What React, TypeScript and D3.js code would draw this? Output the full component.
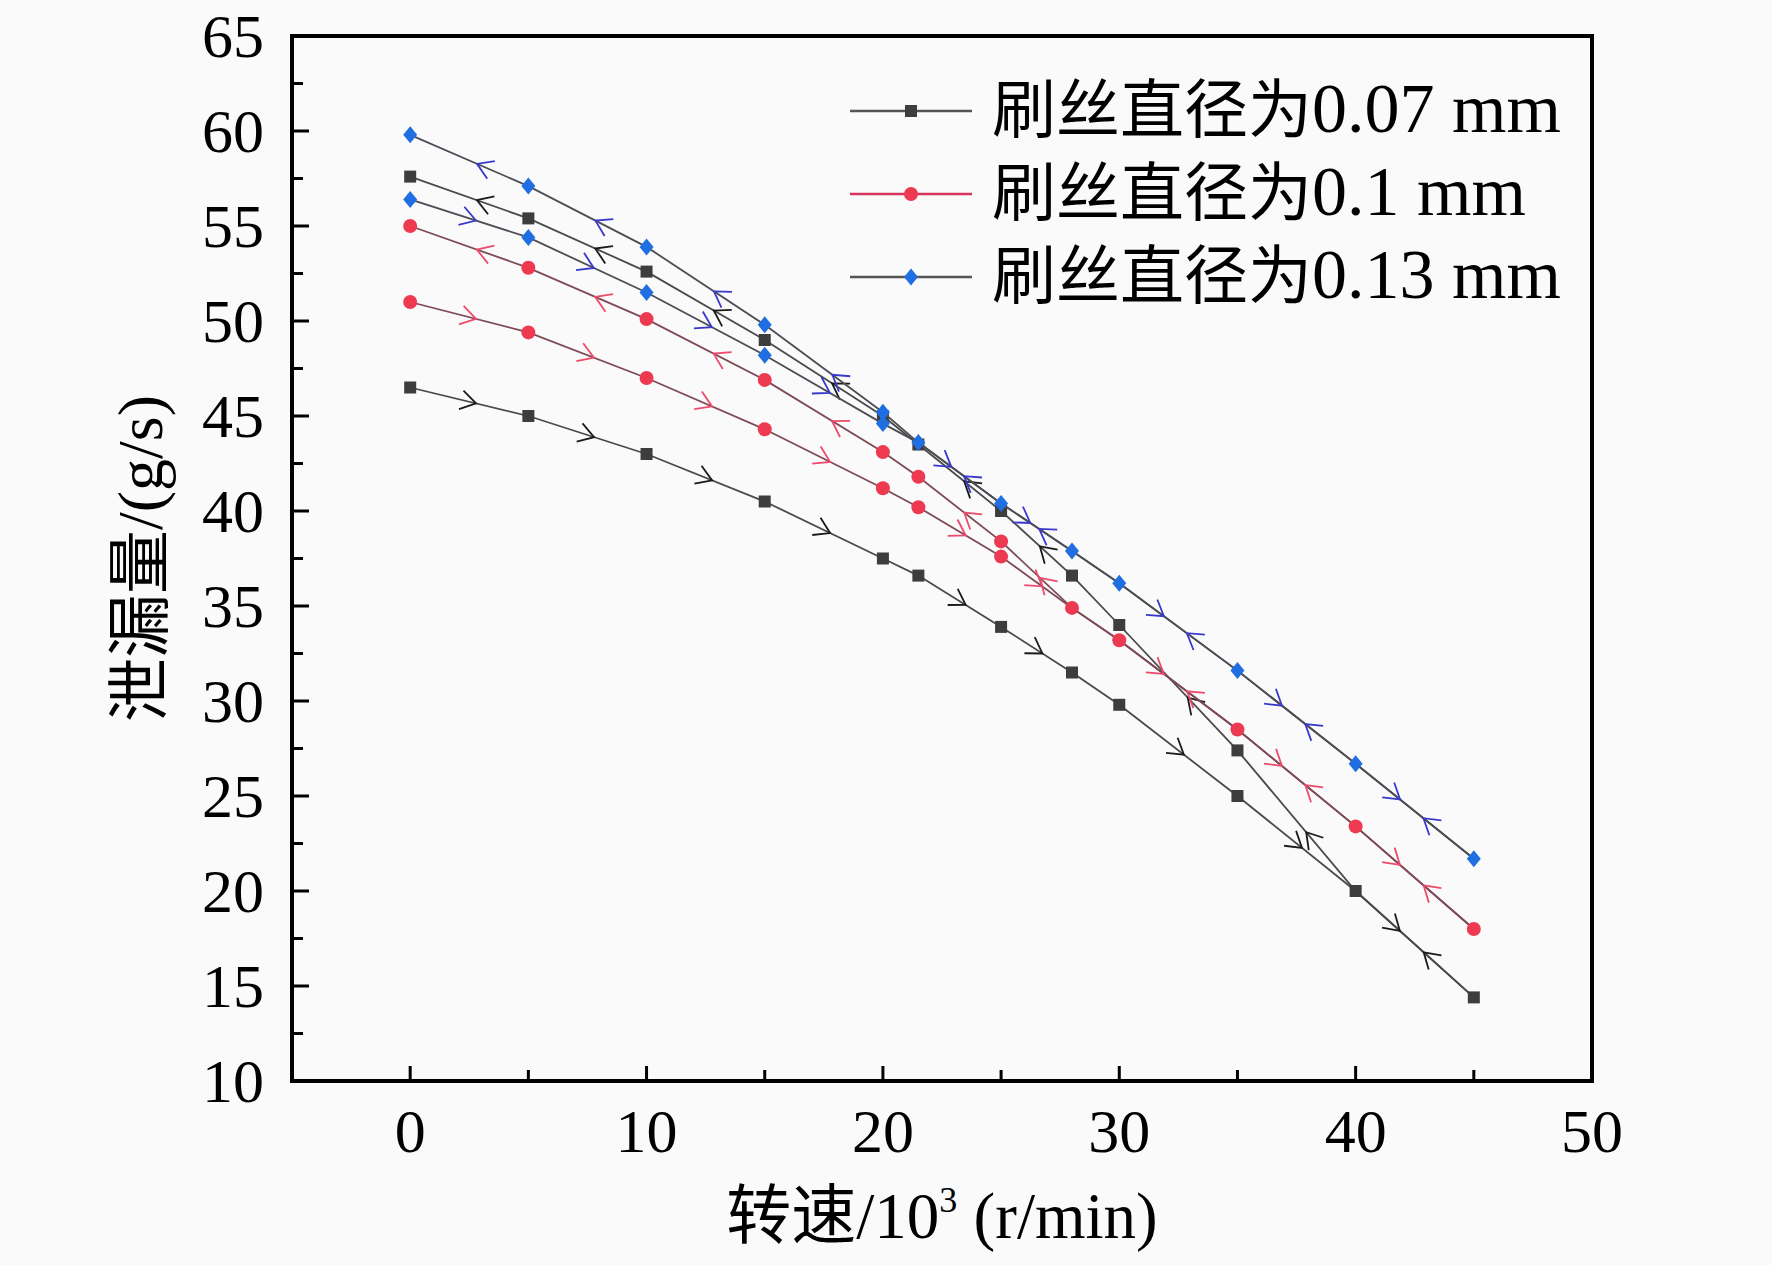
import { useEffect, useRef } from "react";
import * as d3 from "d3";

// speed, 10^3 r/min
const speeds = [0, 5, 10, 15, 20, 21.5, 25, 28, 30, 35, 40, 45];

// leakage (g/s): "up" = speed rising (arrows right), "down" = speed falling (arrows left)
const d007Up = [46.5, 45.0, 43.0, 40.5, 37.5, 36.6, 33.9, 31.5, 29.8, 25.0, 20.0, 14.4];
const d007Down = [57.6, 55.4, 52.6, 49.0, 45.0, 43.5, 40.0, 36.6, 34.0, 27.4, 20.0, 14.4];
const d010Up = [51.0, 49.4, 47.0, 44.3, 41.2, 40.2, 37.6, 34.9, 33.2, 28.5, 23.4, 18.0];
const d010Down = [55.0, 52.8, 50.1, 46.9, 43.1, 41.8, 38.4, 34.9, 33.2, 28.5, 23.4, 18.0];
const d013Up = [56.4, 54.4, 51.5, 48.2, 44.6, 43.6, 40.4, 37.9, 36.2, 31.6, 26.7, 21.7];
const d013Down = [59.8, 57.1, 53.9, 49.8, 45.2, 43.6, 40.4, 37.9, 36.2, 31.6, 26.7, 21.7];

const seriesPrefix = "刷丝直径为";
const seriesSizes = ["0.07 mm", "0.1 mm", "0.13 mm"];

const xTicks = [0, 10, 20, 30, 40, 50];
const yTicks = [10, 15, 20, 25, 30, 35, 40, 45, 50, 55, 60, 65];

const W = 1772;
const H = 1265;
const FONT = "'Liberation Serif', 'Times New Roman', 'Noto Sans CJK SC', serif";

export default function App() {
  const ref = useRef<SVGSVGElement>(null);

  useEffect(() => {
    if (!ref.current) return;
    const svg = d3.select(ref.current);
    svg.selectAll("*").remove();

    const margin = { top: 36, right: 180, bottom: 184, left: 292 };

    const x = d3.scaleLinear().domain([-5, 50]).range([margin.left, W - margin.right]);
    const y = d3.scaleLinear().domain([10, 65]).range([H - margin.bottom, margin.top]);

    svg.append("rect").attr("width", W).attr("height", H).attr("fill", "#fafafa");

    const series = [
      { size: seriesSizes[0], up: d007Up, down: d007Down, line: "#4a4a4a", legendLine: "#555", arrow: "#1a1a1a", marker: "#3d3d3d", shape: "square" },
      { size: seriesSizes[1], up: d010Up, down: d010Down, line: "#7e4a58", legendLine: "#d8335a", arrow: "#ee4a6c", marker: "#ee3a50", shape: "circle" },
      { size: seriesSizes[2], up: d013Up, down: d013Down, line: "#4d4d55", legendLine: "#555", arrow: "#3838cc", marker: "#1f6fe2", shape: "diamond" },
    ];

    const line = d3.line<number>().x((_, i) => x(speeds[i])).y(d => y(d));

    const drawMarker = (g: d3.Selection<SVGGElement, unknown, null, undefined>, shape: string, cx: number, cy: number, fill: string) => {
      if (shape === "square") {
        g.append("rect").attr("x", cx - 6).attr("y", cy - 6).attr("width", 12).attr("height", 12).attr("fill", fill);
      } else if (shape === "circle") {
        g.append("circle").attr("cx", cx).attr("cy", cy).attr("r", 7).attr("fill", fill);
      } else {
        g.append("path")
          .attr("d", `M${cx},${cy - 8.5}L${cx + 7},${cy}L${cx},${cy + 8.5}L${cx - 7},${cy}Z`)
          .attr("fill", fill);
      }
    };

    const drawArrow = (g: d3.Selection<SVGGElement, unknown, null, undefined>, px: number, py: number, dx: number, dy: number, color: string) => {
      const len = Math.hypot(dx, dy);
      const ux = dx / len, uy = dy / len;
      const tipX = px + ux * 7, tipY = py + uy * 7;
      const a = (32 * Math.PI) / 180;
      const arm = 18;
      const rot = (s: number) => [ux * Math.cos(s * a) - uy * Math.sin(s * a), ux * Math.sin(s * a) + uy * Math.cos(s * a)];
      const [r1x, r1y] = rot(1);
      const [r2x, r2y] = rot(-1);
      g.append("path")
        .attr("d", `M${tipX - r1x * arm},${tipY - r1y * arm}L${tipX},${tipY}L${tipX - r2x * arm},${tipY - r2y * arm}`)
        .attr("fill", "none")
        .attr("stroke", color)
        .attr("stroke-width", 1.8);
    };

    const plot = svg.append("g");

    series.forEach(s => {
      const g = plot.append("g");
      g.append("path").datum(s.up).attr("d", line).attr("fill", "none").attr("stroke", s.line).attr("stroke-width", 1.8);
      g.append("path").datum(s.down).attr("d", line).attr("fill", "none").attr("stroke", s.line).attr("stroke-width", 1.8);

      // direction arrows on each segment long enough
      for (let i = 0; i < speeds.length - 1; i++) {
        if (speeds[i + 1] - speeds[i] < 3) continue;
        const shared = s.up[i] === s.down[i] && s.up[i + 1] === s.down[i + 1];
        const x0 = x(speeds[i]), x1 = x(speeds[i + 1]);
        // rising speed branch
        {
          const t = shared ? 0.33 : 0.5;
          const y0 = y(s.up[i]), y1 = y(s.up[i + 1]);
          drawArrow(g, x0 + (x1 - x0) * t, y0 + (y1 - y0) * t, x1 - x0, y1 - y0, s.arrow);
        }
        // falling speed branch
        {
          const t = 0.62;
          const y0 = y(s.down[i]), y1 = y(s.down[i + 1]);
          drawArrow(g, x0 + (x1 - x0) * t, y0 + (y1 - y0) * t, x0 - x1, y0 - y1, s.arrow);
        }
      }

      speeds.forEach((sp, i) => {
        drawMarker(g, s.shape, x(sp), y(s.up[i]), s.marker);
        if (s.down[i] !== s.up[i]) drawMarker(g, s.shape, x(sp), y(s.down[i]), s.marker);
      });
    });

    // axes frame
    const left = x(-5), right = x(50), top = y(65), bottom = y(10);
    svg.append("rect")
      .attr("x", left).attr("y", top).attr("width", right - left).attr("height", bottom - top)
      .attr("fill", "none").attr("stroke", "#000").attr("stroke-width", 4);

    // y ticks (inside)
    const yMinor = d3.range(12.5, 65, 5);
    yTicks.forEach(v => {
      svg.append("line").attr("x1", left).attr("x2", left + 17).attr("y1", y(v)).attr("y2", y(v)).attr("stroke", "#000").attr("stroke-width", 3);
      svg.append("text").attr("x", left - 28).attr("y", y(v) + 21).attr("text-anchor", "end")
        .attr("font-family", FONT).attr("font-size", 62).attr("fill", "#000").text(v);
    });
    yMinor.forEach(v => {
      svg.append("line").attr("x1", left).attr("x2", left + 11).attr("y1", y(v)).attr("y2", y(v)).attr("stroke", "#000").attr("stroke-width", 3);
    });

    // x ticks (inside)
    const xMinor = d3.range(5, 50, 10);
    xTicks.forEach(v => {
      svg.append("line").attr("x1", x(v)).attr("x2", x(v)).attr("y1", bottom).attr("y2", bottom - 15).attr("stroke", "#000").attr("stroke-width", 3);
      svg.append("text").attr("x", x(v)).attr("y", bottom + 71).attr("text-anchor", "middle")
        .attr("font-family", FONT).attr("font-size", 62).attr("fill", "#000").text(v);
    });
    xMinor.forEach(v => {
      svg.append("line").attr("x1", x(v)).attr("x2", x(v)).attr("y1", bottom).attr("y2", bottom - 11).attr("stroke", "#000").attr("stroke-width", 3);
    });

    // axis titles
    const xt = svg.append("text").attr("x", (left + right) / 2).attr("y", 1238).attr("text-anchor", "middle")
      .attr("font-family", FONT).attr("font-size", 65).attr("fill", "#000");
    xt.append("tspan").text("转速/10");
    xt.append("tspan").attr("font-size", 36).attr("dy", -26).text("3");
    xt.append("tspan").attr("dy", 26).text(" (r/min)");

    svg.append("text")
      .attr("transform", `translate(162,${(top + bottom) / 2}) rotate(-90)`)
      .attr("text-anchor", "middle")
      .attr("font-family", FONT).attr("font-size", 64).attr("fill", "#000")
      .text("泄漏量/(g/s)");

    // legend
    const legend = svg.append("g");
    series.forEach((s, i) => {
      const ry = 111 + i * 83;
      legend.append("line").attr("x1", 850).attr("x2", 972).attr("y1", ry).attr("y2", ry)
        .attr("stroke", s.legendLine).attr("stroke-width", 2.5);
      drawMarker(legend, s.shape, 911, ry, s.marker);
      const t = legend.append("text").attr("x", 992).attr("y", ry + 21)
        .attr("font-family", FONT).attr("font-size", 64).attr("fill", "#000");
      t.append("tspan").text(seriesPrefix);
      t.append("tspan").attr("font-size", 70).text(s.size);
    });
  }, []);

  return (
    <svg
      ref={ref}
      width={W}
      height={H}
      style={{ position: "absolute", left: 0, top: 0, display: "block" }}
    />
  );
}
